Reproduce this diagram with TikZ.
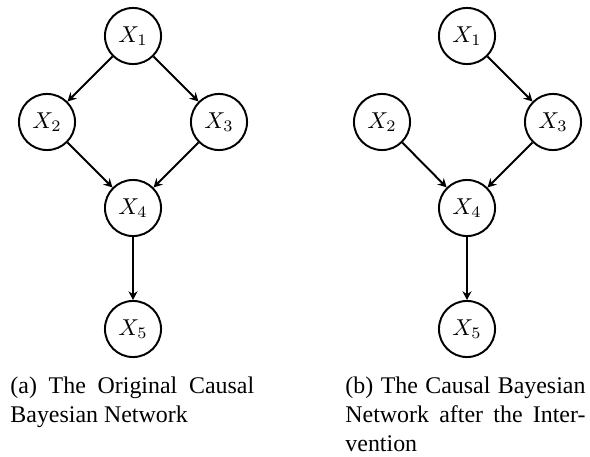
\documentclass[tikz,border=0pt]{standalone}
\usepackage{fontspec}
\setmainfont{Liberation Serif}
\usetikzlibrary{arrows.meta}
\begin{document}
\begin{tikzpicture}[x=0.435pt,y=-0.435pt,
  var/.style={circle,draw,line width=0.85pt,minimum size=24.4pt,inner sep=0pt,font=\fontsize{10.4}{12}\selectfont},
  arr/.style={-{Stealth[length=3.8pt,width=4pt,inset=1.3pt]},line width=0.85pt},
  cap/.style={anchor=base west,inner sep=0pt,text width=#1,align=justify,font=\fontsize{10.4}{12.8}\selectfont}]
\useasboundingbox (0,0) rectangle (590,457);
% left network
\node[var] (a1) at (133,36) {$X_1$};
\node[var] (a2) at (47,122) {$X_2$};
\node[var] (a3) at (219,122) {$X_3$};
\node[var] (a4) at (133,208) {$X_4$};
\node[var] (a5) at (133,329) {$X_5$};
\draw[arr] (a1) -- (a2);
\draw[arr] (a1) -- (a3);
\draw[arr] (a2) -- (a4);
\draw[arr] (a3) -- (a4);
\draw[arr] (a4) -- (a5);
% right network
\node[var] (b1) at (467,36) {$X_1$};
\node[var] (b2) at (382,122) {$X_2$};
\node[var] (b3) at (553,122) {$X_3$};
\node[var] (b4) at (467,208) {$X_4$};
\node[var] (b5) at (467,329) {$X_5$};
\draw[arr] (b1) -- (b3);
\draw[arr] (b2) -- (b4);
\draw[arr] (b3) -- (b4);
\draw[arr] (b4) -- (b5);
% captions
\node[cap=106pt] (ca) at (10,393) {(a) The Original Causal\linebreak Bayesian Network};
\node[cap=104.4pt] (cb) at (345,393) {(b) The Causal Bayesian\linebreak Network after the Inter-\linebreak vention};
\end{tikzpicture}
\end{document}
